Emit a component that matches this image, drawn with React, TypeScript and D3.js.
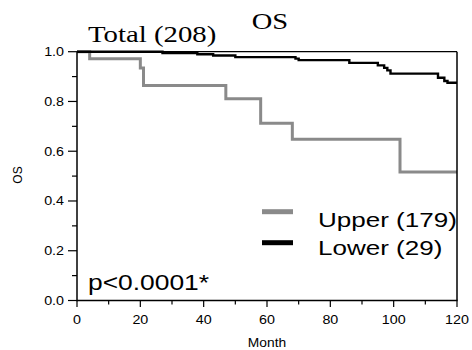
import React from 'react';
import * as d3 from 'd3';

// Kaplan-Meier steps
const upperTimes = [0, 4, 20, 21, 47, 58, 68, 102, 120];
const upperSurv = [1, 0.972, 0.934, 0.864, 0.811, 0.712, 0.648, 0.516, 0.516];

const lowerTimes = [0, 27, 38, 43, 50, 69, 70, 86, 95, 97, 98, 99, 114, 116, 117, 120];
const lowerSurv = [1, 0.995, 0.99, 0.985, 0.978, 0.972, 0.966, 0.955, 0.945, 0.935, 0.925, 0.912, 0.895, 0.882, 0.875, 0.875];

const xTicks = [0, 20, 40, 60, 80, 100, 120];
const xMinor = [10, 30, 50, 70, 90, 110];
const yTicks = [0, 0.2, 0.4, 0.6, 0.8, 1.0];
const yMinor = [0.1, 0.3, 0.5, 0.7, 0.9];

const legendLabels = ['Upper (179)', 'Lower (29)'];
const legendColors = ['#8a8a8a', '#000000'];

const SANS = 'Liberation Sans, Arial, sans-serif';
const SERIF = 'Liberation Serif, Times New Roman, serif';

const W = 472;
const H = 350;

// the picture is stretched sideways, so text is drawn with a small x scale
const SText = ({ x, y, sx = 1.2, size, family = SANS, anchor = 'start', children }: any) => (
  <text
    transform={`translate(${x},${y}) scale(${sx},1)`}
    fontSize={size}
    fontFamily={family}
    textAnchor={anchor}
    fill="#000"
  >
    {children}
  </text>
);

const App = () => {
  const x = d3.scaleLinear().domain([0, 120]).range([77, 457]);
  const y = d3.scaleLinear().domain([0, 1]).range([300.5, 51.7]);

  const line = d3.line<[number, number]>()
    .x(d => x(d[0]))
    .y(d => y(d[1]))
    .curve(d3.curveStepAfter);

  const upperPts = upperTimes.map((t, i) => [t, upperSurv[i]] as [number, number]);
  const lowerPts = lowerTimes.map((t, i) => [t, lowerSurv[i]] as [number, number]);

  const [x0, x1] = x.range();
  const [yb, yt] = y.range();

  return (
    <svg width={W} height={H} style={{ position: 'absolute', left: 0, top: 0, background: '#fff' }}>
      <rect width={W} height={H} fill="#fff" />

      {/* titles */}
      <SText x={270} y={28.5} size={23} family={SERIF} anchor="middle" sx={1.24}>OS</SText>
      <SText x={88} y={41.5} size={24} family={SERIF} sx={1.2}>Total (208)</SText>

      {/* curves */}
      <path d={line(upperPts) || ''} fill="none" stroke={legendColors[0]} strokeWidth={3} />
      <path d={line(lowerPts) || ''} fill="none" stroke={legendColors[1]} strokeWidth={2.4} />

      {/* box */}
      <line x1={x0} x2={x1} y1={yt} y2={yt} stroke="#000" strokeWidth={1.3} />
      <line x1={x1} x2={x1} y1={yt} y2={yb} stroke="#000" strokeWidth={1.5} />
      <line x1={x0} x2={x1 + 0.7} y1={yb} y2={yb} stroke="#000" strokeWidth={1.5} />
      <line x1={x0} x2={x0} y1={yt} y2={yb + 0.7} stroke="#000" strokeWidth={1.5} />

      {/* y axis */}
      {yTicks.map(t => (
        <g key={'y' + t}>
          <line x1={x0 - 9} x2={x0} y1={y(t)} y2={y(t)} stroke="#000" strokeWidth={1.2} />
          <SText x={x0 - 13} y={y(t) + 4.5} size={13} anchor="end" sx={1.1}>{d3.format('.1f')(t)}</SText>
        </g>
      ))}
      {yMinor.map(t => (
        <line key={'ym' + t} x1={x0 - 5} x2={x0} y1={y(t)} y2={y(t)} stroke="#000" strokeWidth={1.2} />
      ))}
      <text
        transform={`translate(22,175) scale(1.1,1) rotate(-90)`}
        fontSize={12}
        fontFamily={SANS}
        textAnchor="middle"
      >OS</text>

      {/* x axis */}
      {xTicks.map(t => (
        <g key={'x' + t}>
          <line x1={x(t)} x2={x(t)} y1={yb} y2={yb + 6.5} stroke="#000" strokeWidth={1.2} />
          <SText x={x(t)} y={324} size={13} anchor="middle" sx={1.1}>{t}</SText>
        </g>
      ))}
      {xMinor.map(t => (
        <line key={'xm' + t} x1={x(t)} x2={x(t)} y1={yb} y2={yb + 4} stroke="#000" strokeWidth={1.2} />
      ))}
      <SText x={267} y={346.5} size={12} anchor="middle" sx={1.15}>Month</SText>

      {/* legend */}
      {legendLabels.map((lab, i) => (
        <g key={lab}>
          <line x1={262} x2={293} y1={211.7 + i * 31} y2={211.7 + i * 31} stroke={legendColors[i]} strokeWidth={5} />
          <SText x={318} y={226.5 + i * 28.5} size={21} sx={1.24}>{lab}</SText>
        </g>
      ))}

      <SText x={88} y={290} size={22} sx={1.2}>p&lt;0.0001*</SText>
    </svg>
  );
};

export default App;
